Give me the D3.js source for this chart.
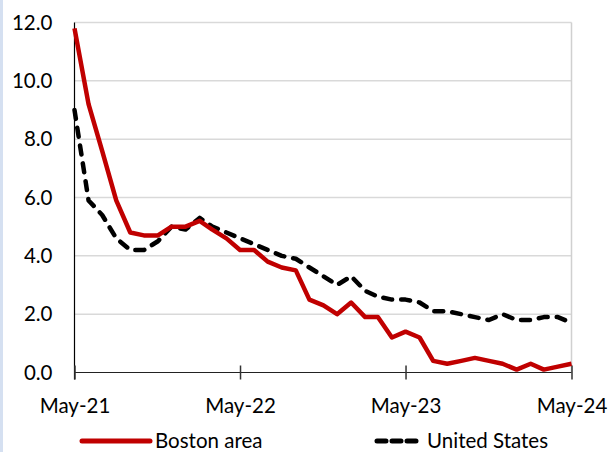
<!doctype html>
<html>
<head>
<meta charset="utf-8">
<style>
    body { margin: 0; background: #fff; }
    svg { display: block; font-family: Lato, "Open Sans", sans-serif; }
</style>
</head>
<body>
<div id="container"></div>
<script src="https://d3js.org/d3.v7.min.js"></script>
<script type="text/javascript">

    // monthly, May-21 .. May-24
    var months = d3.range(37).map(function (i) { return new Date(2021, 4 + i, 1); });
    var boston = [11.8, 9.2, 7.6, 5.9, 4.8, 4.7, 4.7, 5.0, 5.0, 5.2, 4.9, 4.6, 4.2, 4.2, 3.8, 3.6,
        3.5, 2.5, 2.3, 2.0, 2.4, 1.9, 1.9, 1.2, 1.4, 1.2, 0.4, 0.3, 0.4, 0.5, 0.4, 0.3, 0.1, 0.3,
        0.1, 0.2, 0.3];
    var us = [9.0, 5.9, 5.4, 4.6, 4.2, 4.2, 4.5, 5.0, 4.9, 5.3, 5.0, 4.8, 4.6, 4.4, 4.2, 4.0,
        3.9, 3.6, 3.3, 3.0, 3.3, 2.8, 2.6, 2.5, 2.5, 2.4, 2.1, 2.1, 2.0, 1.9, 1.8, 2.0, 1.8, 1.8,
        1.9, 1.9, 1.7];
    var yticks = [0, 2, 4, 6, 8, 10, 12];
    var xticks = [new Date(2021, 4, 1), new Date(2022, 4, 1), new Date(2023, 4, 1), new Date(2024, 4, 1)];
    var xtickLabels = ["May-21", "May-22", "May-23", "May-24"];
    var seriesNames = ["Boston area", "United States"];

    var width = 610, height = 452;
    var margin = {top: 22.5, right: 38.5, bottom: 79.5, left: 74.5};
    var innerwidth = width - margin.left - margin.right,
        innerheight = height - margin.top - margin.bottom;
    var fontsize = 20.5;

    var svg = d3.select("#container").append("svg")
        .attr("width", width)
        .attr("height", height);

    // light blue strip on the left edge
    svg.append("rect")
        .attr("x", 0).attr("y", 0)
        .attr("width", 3).attr("height", height)
        .attr("fill", "#d5e0f1");

    var g = svg.append("g")
        .attr("transform", "translate(" + margin.left + "," + margin.top + ")");

    var x_scale = d3.scaleTime()
        .domain([months[0], months[months.length - 1]])
        .range([0, innerwidth]);

    var y_scale = d3.scaleLinear()
        .domain([0, 12])
        .range([innerheight, 0]);

    // gridlines
    g.append("g")
        .selectAll("line")
        .data(yticks.filter(function (d) { return d > 0; }))
        .enter().append("line")
        .attr("x1", 0)
        .attr("x2", innerwidth)
        .attr("y1", function (d) { return y_scale(d); })
        .attr("y2", function (d) { return y_scale(d); })
        .attr("stroke", "#d9d9d9")
        .attr("stroke-width", 1.5);

    // right border
    g.append("line")
        .attr("x1", innerwidth).attr("x2", innerwidth)
        .attr("y1", 0).attr("y2", innerheight)
        .attr("stroke", "#d0d0d0")
        .attr("stroke-width", 1.5);

    // y axis
    var y_axis = d3.axisLeft(y_scale)
        .tickValues(yticks)
        .tickSize(0)
        .tickPadding(22)
        .tickFormat(d3.format(".1f"));

    var ya = g.append("g").call(y_axis);
    ya.select(".domain").remove();
    ya.selectAll("text")
        .attr("font-size", fontsize)
        .attr("font-family", "Lato, sans-serif")
        .attr("fill", "#000");

    g.append("line")
        .attr("x1", 0).attr("x2", 0)
        .attr("y1", 0).attr("y2", innerheight + 7)
        .attr("stroke", "#000")
        .attr("stroke-width", 1.2);

    // x axis
    var x_axis = d3.axisBottom(x_scale)
        .tickValues(xticks)
        .tickSize(7)
        .tickPadding(19)
        .tickFormat(function (d, i) { return xtickLabels[i]; });

    var xa = g.append("g")
        .attr("transform", "translate(0," + innerheight + ")")
        .call(x_axis);
    xa.select(".domain")
        .attr("d", "M0,0H" + innerwidth)
        .attr("stroke", "#222")
        .attr("stroke-width", 1.2);
    xa.selectAll(".tick line")
        .attr("y1", -7)
        .attr("stroke", "#333")
        .attr("stroke-width", 1.5);
    xa.selectAll("text")
        .attr("font-size", fontsize)
        .attr("font-family", "Lato, sans-serif")
        .attr("fill", "#000");

    var draw_line = d3.line()
        .x(function (d) { return x_scale(d[0]); })
        .y(function (d) { return y_scale(d[1]); });

    g.append("path")
        .datum(d3.zip(months, us))
        .attr("d", draw_line)
        .attr("fill", "none")
        .attr("stroke", "#000")
        .attr("stroke-width", 4.5)
        .attr("stroke-linecap", "round")
        .attr("stroke-linejoin", "round")
        .attr("stroke-dasharray", "9,9");

    g.append("path")
        .datum(d3.zip(months, boston))
        .attr("d", draw_line)
        .attr("fill", "none")
        .attr("stroke", "#c00000")
        .attr("stroke-width", 4.5)
        .attr("stroke-linejoin", "round");

    // legend
    var legend = svg.append("g")
        .attr("transform", "translate(0,441)");

    legend.append("line")
        .attr("x1", 82).attr("x2", 150)
        .attr("y1", 0).attr("y2", 0)
        .attr("stroke", "#c00000")
        .attr("stroke-width", 5)
        .attr("stroke-linecap", "round");
    legend.append("text")
        .attr("x", 155).attr("y", 0).attr("dy", "0.35em")
        .attr("font-size", fontsize)
        .text(seriesNames[0]);

    legend.append("line")
        .attr("x1", 377).attr("x2", 420)
        .attr("y1", 0).attr("y2", 0)
        .attr("stroke", "#000")
        .attr("stroke-width", 5)
        .attr("stroke-linecap", "round")
        .attr("stroke-dasharray", "9,6");
    legend.append("text")
        .attr("x", 427).attr("y", 0).attr("dy", "0.35em")
        .attr("font-size", fontsize)
        .text(seriesNames[1]);

</script>
</body>
</html>
